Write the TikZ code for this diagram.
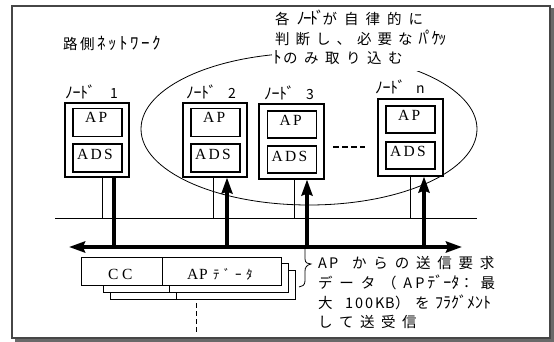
\documentclass[tikz,border=0pt]{standalone}
\usepackage{fontspec}
\setmainfont{Liberation Serif}
\newfontfamily\jp{Noto Sans CJK JP}
\usetikzlibrary{arrows.meta}
\makeatletter
\newcommand\gridtext[2]{\def\gridpitch{#1}\gridloop#2\relax}
\def\gridloop#1{\ifx\relax#1\else\makebox[\gridpitch][l]{#1}\expandafter\gridloop\fi}
\makeatother
\newcommand\hk[1]{{\fontsize{#1}{#1}\selectfont}}
\newcommand\kana[3]{{\fontsize{#1}{#1}\selectfont\gridtext{#2}{#3}}}
\definecolor{framecol}{RGB}{70,70,70}
\definecolor{shadowcol}{RGB}{105,105,105}
\tikzset{
  outerbox/.style={draw, line width=1.1pt, fill=white, minimum width=64pt, minimum height=74pt, inner sep=0pt},
  inbox/.style={draw, line width=1.1pt, fill=white, minimum width=49pt, minimum height=28pt, inner sep=0pt},
  boxtxt/.style={anchor=base west, inner sep=0pt, font=\fontsize{15.5}{15.5}\selectfont},
  jplabel/.style={anchor=base west, inner sep=0pt, font=\jp\fontsize{14}{14}\selectfont},
  jptext/.style={anchor=base west, inner sep=0pt, font=\jp\fontsize{14.5}{14.5}\selectfont},
  thinl/.style={line width=0.8pt},
  thickl/.style={line width=3.5pt},
  upar/.style={thickl, -{Stealth[length=16pt,width=11pt,inset=2pt]}},
  busar/.style={thickl, {Stealth[length=16pt,width=11pt,inset=2pt]}-{Stealth[length=16pt,width=11pt,inset=2pt]}},
  pkt/.style={draw, line width=0.9pt, fill=white},
}
\begin{document}
\begin{tikzpicture}[x=1pt,y=-1pt]
\useasboundingbox (0,0) rectangle (554,342);
% frame with shadow
\fill[shadowcol] (14.5,8.5) rectangle (553.5,341.5);
\draw[framecol, line width=1.5pt, fill=white] (12,6) rectangle (550,338);

% ellipse of receiving nodes
\draw[thinl] (309,129) ellipse [x radius=168pt, y radius=76pt];

% top comment text (covers ellipse)
\fill[white] (272,9) rectangle (446,71);
\node[jptext] (t1) at (275,25) {\gridtext{21.5pt}{各}\kana{17}{6.5pt}{ﾉｰﾄﾞ}\gridtext{21.5pt}{が自律的に}};
\node[jptext] (t2) at (275,45) {\gridtext{20.5pt}{判断し、必要な}\kana{17}{6.5pt}{ﾊﾟｹｯ}};
\node[jptext] (t3) at (273,64) {\kana{17}{10pt}{ﾄ}\gridtext{21pt}{のみ取り込む}};

\node[jptext] (net) at (63,50) {\gridtext{17pt}{路側}\kana{17}{11pt}{ﾈｯﾄﾜｰｸ}};

% LAN line and posts
\coordinate (lanL) at (55,218);
\coordinate (lanR) at (477,218);
\draw[thinl] (lanL) -- (lanR);

% nodes
\node[outerbox] (n1) at (97,140) {};
\node[inbox] (n1ap) at (97.5,122.5) {};
\node[inbox] (n1ads) at (97.5,158) {};
\node[outerbox] (n2) at (215,140) {};
\node[inbox] (n2ap) at (215.5,122.5) {};
\node[inbox] (n2ads) at (215.5,158) {};
\node[outerbox, minimum width=65pt, minimum height=75pt] (n3) at (291.5,141.5) {};
\node[inbox, minimum height=27pt] (n3ap) at (292,124.5) {};
\node[inbox, minimum height=27pt] (n3ads) at (292,159.5) {};
\node[outerbox, minimum width=65pt, minimum height=77pt] (nn) at (410.5,137.5) {};
\node[inbox, minimum height=27pt] (nnap) at (410.5,119.5) {};
\node[inbox, minimum height=27pt] (nnads) at (410.5,155.5) {};

\node[boxtxt] (l1a) at (85,123) {\gridtext{13.5pt}{AP}};
\node[boxtxt] (l1b) at (77,159) {\gridtext{13.5pt}{ADS}};
\node[boxtxt] (l2a) at (203,123) {\gridtext{13.5pt}{AP}};
\node[boxtxt] (l2b) at (195,159) {\gridtext{13.5pt}{ADS}};
\node[boxtxt] (l3a) at (279.5,125) {\gridtext{13.5pt}{AP}};
\node[boxtxt] (l3b) at (271.5,161) {\gridtext{13.5pt}{ADS}};
\node[boxtxt] (lna) at (398,121) {\gridtext{13.5pt}{AP}};
\node[boxtxt] (lnb) at (390,157) {\gridtext{13.5pt}{ADS}};

\node[jplabel] (h1) at (65,99) {\kana{16}{7.5pt}{ﾉｰﾄﾞ}\hspace{15pt}1};
\node[jplabel] (h2) at (186,99) {\kana{16}{7.5pt}{ﾉｰﾄﾞ}\hspace{12pt}2};
\node[jplabel] (h3) at (264,100) {\kana{16}{7.5pt}{ﾉｰﾄﾞ}\hspace{12pt}3};
\node[jplabel] (hn) at (375,94) {\kana{16}{7.5pt}{ﾉｰﾄﾞ}\hspace{11pt}n};

% ellipsis between node 3 and node n
\coordinate (d1) at (333,147);
\coordinate (d2) at (365,147);
\draw[line width=1.1pt, dash pattern=on 5.5pt off 3.5pt] (d1) -- (d2);

% posts
\coordinate (p1) at (102,218);
\coordinate (p2) at (213,218);
\coordinate (p3) at (294,218);
\coordinate (pn) at (410,218);
\draw[thinl] (p1 |- n1.south) -- (p1);
\draw[thinl] (p2 |- n2.south) -- (p2);
\draw[thinl] (p3 |- n3.south) -- (p3);
\draw[thinl] (pn |- nn.south) -- (pn);

% bus and transfers
\coordinate (b1) at (114,247);
\coordinate (b2) at (227,247);
\coordinate (b3) at (307,247);
\coordinate (bn) at (424,247);
\draw[thickl] (b1) -- (b1 |- n1.south);
\draw[upar] (b2) -- (b2 |- n2.south);
\draw[upar] (b3) -- (b3 |- n3.south);
\draw[upar] (bn) -- (bn |- nn.south);
\coordinate (busL) at (69,247);
\coordinate (busR) at (462,247);
\draw[busar] (busL) -- (busR);

% packets
\draw[pkt] (110,270) rectangle (295,299);
\draw[line width=0.9pt] (176,270) -- (176,299);
\draw[pkt] (103,263) rectangle (288,292);
\draw[line width=0.9pt] (169,263) -- (169,292);
\node[pkt, minimum width=81pt, minimum height=28pt, inner sep=0pt] (cc) at (121.5,271) {};
\node[pkt, minimum width=119pt, minimum height=28pt, inner sep=0pt] (apd) at (221.5,271) {};
\node[boxtxt] (cct) at (108,279) {\gridtext{14pt}{CC}};
\node[boxtxt] (apt) at (187,279) {\gridtext{12pt}{AP}};
\node[anchor=base west, inner sep=0pt, font=\jp\fontsize{13}{13}\selectfont] (apdt) at (213,279) {\gridtext{11pt}{ﾃﾞｰﾀ}};
\coordinate (dv1) at (196,303);
\coordinate (dv2) at (196,333);
\draw[line width=0.9pt, dash pattern=on 5pt off 3pt] (dv1) -- (dv2);

% brace
\coordinate (brt) at (305,249);
\draw[thinl] (brt) -- (305,259) .. controls (305,263) and (308,264) .. (311,264)
  .. controls (307,265) and (305,267) .. (305,271) -- (305,281)
  .. controls (305,285) and (302,287) .. (299,287);

% bottom comment
\node[jptext] (c1) at (318,268) {\gridtext{11pt}{AP}\hspace{12pt}\gridtext{21.3pt}{からの送信要求}};
\node[jptext] (c2) at (318,288) {\gridtext{21.3pt}{データ（}\gridtext{12pt}{AP}\kana{16}{8pt}{ﾃﾞｰﾀ}\gridtext{21.3pt}{：最}};
\node[jptext] (c3) at (318,308) {\gridtext{21.3pt}{大}\hspace{5.7pt}\gridtext{10pt}{100KB}\gridtext{20pt}{）を}\kana{16}{8pt}{ﾌﾗｸﾞﾒﾝﾄ}};
\node[jptext] (c4) at (318,327) {\gridtext{21pt}{して送受信}};
\end{tikzpicture}
\end{document}
